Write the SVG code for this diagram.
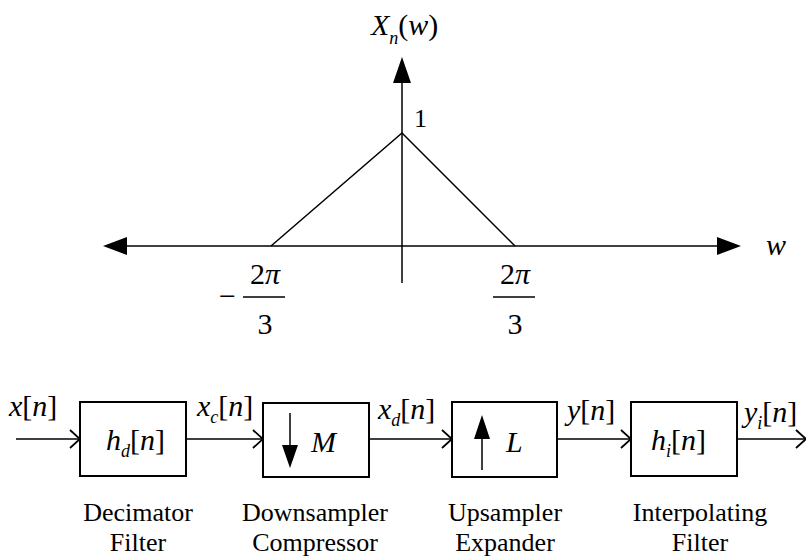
<svg xmlns="http://www.w3.org/2000/svg" width="806" height="558" viewBox="0 0 806 558" font-family="Liberation Serif, serif">
<style>
text{font-family:'Liberation Serif','Times New Roman',serif;fill:#000}
.m{font-size:30px}
.i{font-style:italic}
.s{font-size:18px;font-style:italic}
.c{text-anchor:middle}
.lbl{font-size:26px;text-anchor:middle}
.ln{stroke:#000;stroke-width:1.5;fill:none}
.box{stroke:#000;stroke-width:2;fill:#fff}
.hd{fill:#000;stroke:none}
</style>
<defs>
<marker id="open" viewBox="0 0 12 20" refX="11" refY="10" markerWidth="12" markerHeight="20" markerUnits="userSpaceOnUse" orient="auto">
<path d="M1,1 L11,10 L1,19" fill="none" stroke="#000" stroke-width="1.8"/>
</marker>
</defs>
<rect width="806" height="558" fill="#fff"/>

<g id="spectrum">
<line class="ln" x1="402" y1="80" x2="402" y2="283"/>
<polygon class="hd" points="402,57 393,83 411,83"/>
<line class="ln" x1="125" y1="246" x2="720" y2="246"/>
<polygon class="hd" points="103,246 127,237 127,255"/>
<polygon class="hd" points="741,246 717,237 717,255"/>
<polyline class="ln" points="271,246 402,133 515,246"/>
<text class="m" x="371" y="35"><tspan class="i">X</tspan><tspan class="s" dy="9">n</tspan><tspan dy="-9">(</tspan><tspan class="i">w</tspan>)</text>
<text class="m" x="414" y="127" style="font-size:26px">1</text>
<text class="m i" x="766" y="255">w</text>
<text class="m" x="219" y="306">−</text>
<text class="m c" x="265" y="284">2<tspan class="i">π</tspan></text>
<line class="ln" x1="243" y1="297" x2="285" y2="297"/>
<text class="m c" x="265" y="334">3</text>
<text class="m c" x="515" y="284">2<tspan class="i">π</tspan></text>
<line class="ln" x1="493" y1="297" x2="535" y2="297"/>
<text class="m c" x="515" y="334">3</text>
</g>

<g id="connectors">
<line class="ln" x1="16" y1="439" x2="80" y2="439" marker-end="url(#open)"/>
<line class="ln" x1="186" y1="439" x2="263" y2="439" marker-end="url(#open)"/>
<line class="ln" x1="369" y1="439" x2="452" y2="439" marker-end="url(#open)"/>
<line class="ln" x1="557" y1="439" x2="631" y2="439" marker-end="url(#open)"/>
<line class="ln" x1="737" y1="439" x2="806" y2="439" marker-end="url(#open)"/>
<text class="m" x="9" y="416"><tspan class="i">x</tspan>[<tspan class="i">n</tspan>]</text>
<text class="m" x="197" y="416"><tspan class="i">x</tspan><tspan class="s" dy="7">c</tspan><tspan dy="-7">[</tspan><tspan class="i">n</tspan>]</text>
<text class="m" x="378" y="419"><tspan class="i">x</tspan><tspan class="s" dy="7">d</tspan><tspan dy="-7">[</tspan><tspan class="i">n</tspan>]</text>
<text class="m" x="567" y="420"><tspan class="i">y</tspan>[<tspan class="i">n</tspan>]</text>
<text class="m" x="744" y="422"><tspan class="i">y</tspan><tspan class="s" dy="7">i</tspan><tspan dy="-7">[</tspan><tspan class="i">n</tspan>]</text>
</g>

<g id="decimator">
<rect class="box" x="80" y="402" width="106" height="74"/>
<text class="m" x="106" y="450"><tspan class="i">h</tspan><tspan class="s" dy="7">d</tspan><tspan dy="-7">[</tspan><tspan class="i">n</tspan>]</text>
<text class="lbl" x="138" y="521">Decimator</text>
<text class="lbl" x="138" y="551">Filter</text>
</g>

<g id="downsampler">
<rect class="box" x="263" y="403" width="106" height="74"/>
<line class="ln" x1="290" y1="413" x2="290" y2="447"/>
<polygon class="hd" points="290,468 282,445 298,445"/>
<text class="m i" x="311" y="452">M</text>
<text class="lbl" x="315" y="521">Downsampler</text>
<text class="lbl" x="315" y="551">Compressor</text>
</g>

<g id="upsampler">
<rect class="box" x="452" y="402" width="105" height="75"/>
<line class="ln" x1="482" y1="437" x2="482" y2="470"/>
<polygon class="hd" points="482,415 474,439 490,439"/>
<text class="m i" x="506" y="452">L</text>
<text class="lbl" x="505" y="521">Upsampler</text>
<text class="lbl" x="505" y="551">Expander</text>
</g>

<g id="interpolator">
<rect class="box" x="631" y="402" width="106" height="74"/>
<text class="m" x="651" y="450"><tspan class="i">h</tspan><tspan class="s" dy="7">i</tspan><tspan dy="-7">[</tspan><tspan class="i">n</tspan>]</text>
<text class="lbl" x="700" y="521">Interpolating</text>
<text class="lbl" x="700" y="551">Filter</text>
</g>
</svg>
